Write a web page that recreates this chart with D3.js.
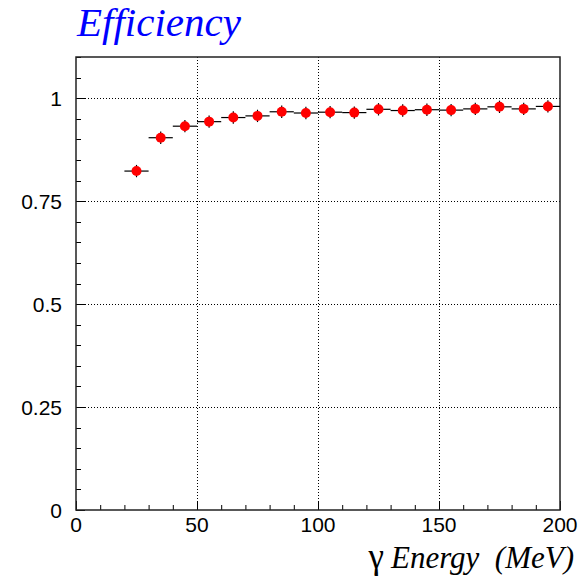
<!DOCTYPE html>
<html>
<head>
<meta charset="utf-8">
<script src="https://cdn.jsdelivr.net/npm/d3@7"></script>
<style>
  body { margin: 0; background: #fff; }
  .tick-label { font-family: "Liberation Sans", Arial, sans-serif; font-size: 21px; fill: #000; }
</style>
</head>
<body>
<svg id="chart" width="585" height="583"></svg>
<script>
// bin centers (MeV), efficiency and errors
const energy = [25, 35, 45, 55, 65, 75, 85, 95, 105, 115, 125, 135, 145, 155, 165, 175, 185, 195];
const efficiency = [0.823, 0.904, 0.932, 0.943, 0.953, 0.957, 0.967, 0.964, 0.966, 0.965,
                    0.973, 0.970, 0.972, 0.971, 0.974, 0.979, 0.974, 0.980];
const effError = [0.015, 0.015, 0.015, 0.015, 0.015, 0.015, 0.015, 0.015, 0.015, 0.015,
                  0.015, 0.015, 0.015, 0.015, 0.015, 0.015, 0.015, 0.015];
const binHalfWidth = 5;
const xTicks = [0, 50, 100, 150, 200];
const yTicks = [0, 0.25, 0.5, 0.75, 1];
const yTickLabels = ["0", "0.25", "0.5", "0.75", "1"];

const svg = d3.select("#chart");
const plotLeft = 76, plotRight = 560, plotTop = 57, plotBottom = 510;

const x = d3.scaleLinear().domain([0, 200]).range([plotLeft, plotRight]);
const y = d3.scaleLinear().domain([0, 1.1]).range([plotBottom, plotTop]);

// grid (dotted)
const grid = svg.append("g")
    .attr("stroke", "#000")
    .attr("stroke-width", 1)
    .attr("stroke-dasharray", "1,2");
grid.selectAll("line.gx")
    .data(xTicks.filter(d => d > 0 && d < 200))
    .enter().append("line")
    .attr("x1", d => x(d) + 0.5).attr("x2", d => x(d) + 0.5)
    .attr("y1", plotTop).attr("y2", plotBottom);
grid.selectAll("line.gy")
    .data(yTicks.filter(d => d > 0))
    .enter().append("line")
    .attr("y1", d => Math.round(y(d)) + 0.5).attr("y2", d => Math.round(y(d)) + 0.5)
    .attr("x1", plotLeft).attr("x2", plotRight);

// axes with inward ticks
const xMinor = d3.range(0, 201, 10);
const yMinor = d3.range(0, 1.1001, 0.05);

const ticks = svg.append("g").attr("stroke", "#000").attr("stroke-width", 1);
ticks.selectAll("line.xt")
    .data(xMinor)
    .enter().append("line")
    .attr("x1", d => x(d) + 0.5).attr("x2", d => x(d) + 0.5)
    .attr("y1", plotBottom)
    .attr("y2", d => plotBottom - (d % 50 === 0 ? 9 : 5));
ticks.selectAll("line.yt")
    .data(yMinor)
    .enter().append("line")
    .attr("y1", d => Math.round(y(d)) + 0.5).attr("y2", d => Math.round(y(d)) + 0.5)
    .attr("x1", plotLeft)
    .attr("x2", d => plotLeft + (Math.abs(d * 4 - Math.round(d * 4)) < 1e-6 ? 9 : 5));

// frame
svg.append("rect")
    .attr("x", plotLeft).attr("y", plotTop)
    .attr("width", plotRight - plotLeft).attr("height", plotBottom - plotTop)
    .attr("fill", "none")
    .attr("stroke", "#222")
    .attr("stroke-width", 1.5);

// tick labels
svg.selectAll("text.xl")
    .data(xTicks)
    .enter().append("text")
    .attr("class", "tick-label")
    .attr("x", d => x(d))
    .attr("y", plotBottom + 22)
    .attr("text-anchor", "middle")
    .text(d => d);
svg.selectAll("text.yl")
    .data(yTicks)
    .enter().append("text")
    .attr("class", "tick-label")
    .attr("x", plotLeft - 14)
    .attr("y", d => y(d) + 8)
    .attr("text-anchor", "end")
    .text((d, i) => yTickLabels[i]);

// points with error bars
const pts = energy.map((e, i) => ({ e: e, v: efficiency[i], err: effError[i] }));
const marks = svg.append("g");
marks.selectAll("line.hx")
    .data(pts)
    .enter().append("line")
    .attr("x1", d => x(d.e - binHalfWidth)).attr("x2", d => x(d.e + binHalfWidth))
    .attr("y1", d => y(d.v)).attr("y2", d => y(d.v))
    .attr("stroke", "#000").attr("stroke-width", 1.2);
marks.selectAll("line.vy")
    .data(pts)
    .enter().append("line")
    .attr("x1", d => x(d.e)).attr("x2", d => x(d.e))
    .attr("y1", d => y(d.v - d.err)).attr("y2", d => y(d.v + d.err))
    .attr("stroke", "#000").attr("stroke-width", 1.2);
marks.selectAll("circle")
    .data(pts)
    .enter().append("circle")
    .attr("cx", d => x(d.e))
    .attr("cy", d => y(d.v))
    .attr("r", 5)
    .attr("fill", "#ff0000");

// title
svg.append("text")
    .attr("x", 77).attr("y", 36)
    .attr("font-family", "'Liberation Serif', 'Times New Roman', serif")
    .attr("font-style", "italic")
    .attr("font-size", 41)
    .attr("fill", "#0000ff")
    .text("Efficiency");

// x axis title
const xt = svg.append("text")
    .attr("x", 574).attr("y", 568)
    .attr("text-anchor", "end")
    .attr("font-family", "'Liberation Serif', 'Times New Roman', serif")
    .attr("font-size", 31)
    .attr("fill", "#000");
xt.append("tspan").attr("font-size", 35).text("γ\u2009");
xt.append("tspan").attr("font-style", "italic").text("Energy\u00a0\u00a0(MeV)");
</script>
</body>
</html>
